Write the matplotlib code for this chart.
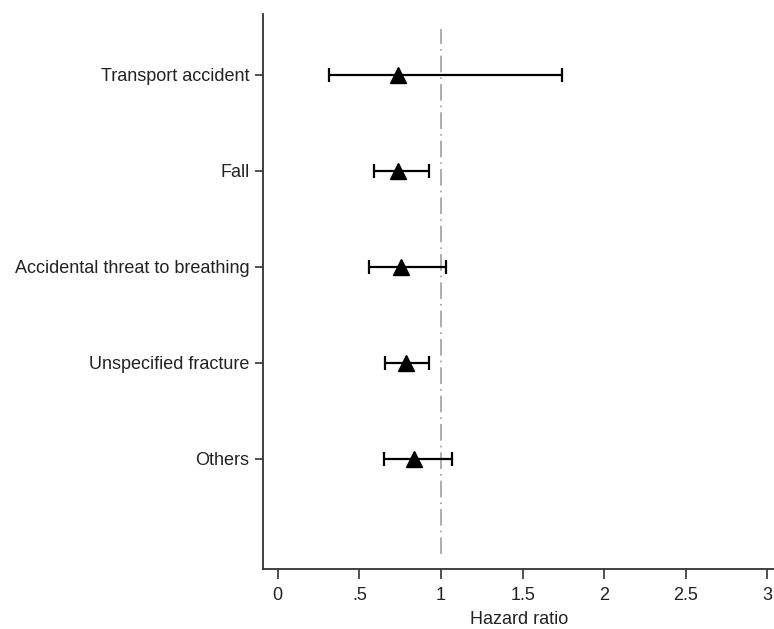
import matplotlib.pyplot as plt
import numpy as np

plt.rcParams['font.family'] = ['Liberation Sans', 'DejaVu Sans']

# hazard ratios with 95% CI
causes = ['Transport accident', 'Fall', 'Accidental threat to breathing',
          'Unspecified fracture', 'Others']
hr = [0.74, 0.74, 0.755, 0.785, 0.835]
ci_low = [0.314, 0.592, 0.561, 0.659, 0.649]
ci_high = [1.739, 0.927, 1.028, 0.927, 1.065]
xticks = [0, 0.5, 1, 1.5, 2, 2.5, 3]
xticklabels = ['0', '.5', '1', '1.5', '2', '2.5', '3']

txt = '#222222'
fig = plt.figure(figsize=(7.74, 6.29), dpi=100)
ax = fig.add_axes([0.3402, 0.0954, 0.6598, 0.8823])

ypos = np.arange(1, len(causes) + 1)
hr = np.array(hr)
err = [hr - np.array(ci_low), np.array(ci_high) - hr]

ax.axvline(1, ymin=0.0265, ymax=0.973, color='#a0a0a0', linestyle=(0, (10, 3, 1, 3)), linewidth=1.2, zorder=1)
ax.errorbar(hr, ypos, xerr=err, fmt='none', ecolor='black', elinewidth=1.6,
            capsize=5, capthick=1.6, zorder=2)
ax.plot(hr, ypos, linestyle='none', marker='^', markersize=11, color='black', zorder=3)

ax.set_xlim(-0.088, 3.04)
ax.set_ylim(6.146, 0.365)
ax.set_yticks(ypos)
ax.set_yticklabels(causes, fontsize=13, color=txt)
ax.set_xticks(xticks)
ax.set_xticklabels(xticklabels, fontsize=13, color=txt)
ax.tick_params(axis='y', length=6, width=1.2, pad=4, color='#333333')
ax.tick_params(axis='x', length=7, width=1.2, pad=6, color='#333333')
ax.set_xlabel('Hazard ratio', fontsize=13, labelpad=5, color=txt)

for s in ['top', 'right']:
    ax.spines[s].set_visible(False)
for s in ['left', 'bottom']:
    ax.spines[s].set_linewidth(1.3)
    ax.spines[s].set_color('#333333')

fig.savefig('out.png', dpi=100)
